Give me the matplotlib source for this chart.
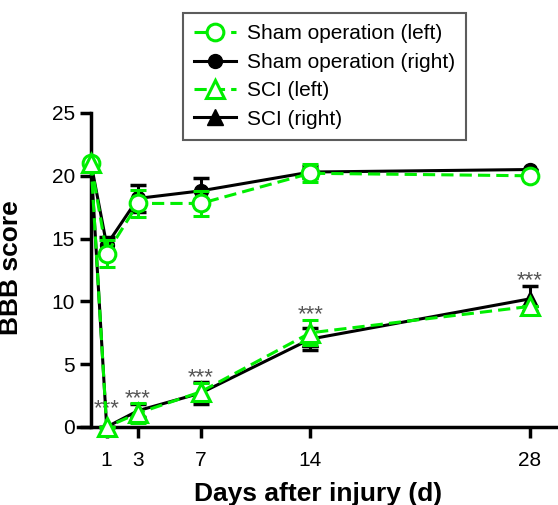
import numpy as np
import matplotlib
matplotlib.use('Agg')
import matplotlib.pyplot as plt
from matplotlib.lines import Line2D

plt.rcParams['font.family'] = ['Liberation Sans', 'DejaVu Sans']

days = [0, 1, 3, 7, 14, 28]

sham_left = [21.0, 13.8, 17.8, 17.8, 20.2, 20.0]
sham_left_err = [0.0, 1.1, 1.1, 1.0, 0.7, 0.0]
sham_right = [21.0, 14.5, 18.2, 18.8, 20.3, 20.5]
sham_right_err = [0.0, 0.6, 1.1, 1.0, 0.5, 0.0]
sci_left = [21.0, 0.0, 1.1, 2.8, 7.5, 9.6]
sci_left_err = [0.0, 0.0, 0.8, 0.7, 1.0, 0.0]
sci_right = [21.0, 0.0, 1.3, 2.7, 7.0, 10.2]
sci_right_err = [0.0, 0.0, 0.5, 0.9, 0.9, 1.0]

star_days = [1, 3, 7, 14, 28]
star_y = [1.0, 1.8, 3.5, 8.5, 11.2]

green = '#00ee00'
dash = (0, (4, 2))

fig = plt.figure(figsize=(5.58, 5.05), dpi=100)
ax = fig.add_axes([78/558, 1-427/505, 480/558, 314/505])

ax.errorbar(days, sham_right, yerr=sham_right_err, color='black', lw=2.2,
            marker='o', ms=10, mfc='black', mec='black', capsize=6, capthick=2.5,
            elinewidth=2.2, clip_on=False, zorder=3)
ax.errorbar(days, sci_right, yerr=sci_right_err, color='black', lw=2.2,
            marker='^', ms=11, mfc='black', mec='black', capsize=6, capthick=2.5,
            elinewidth=2.2, clip_on=False, zorder=3)
ax.errorbar(days, sham_left, yerr=sham_left_err, color=green, lw=2.2, ls=dash,
            marker='o', ms=12, mfc='white', mec=green, mew=2.2, capsize=6, capthick=2.5,
            elinewidth=2.2, clip_on=False, zorder=4)
ax.errorbar(days, sci_left, yerr=sci_left_err, color=green, lw=2.2, ls=dash,
            marker='^', ms=13, mfc='white', mec=green, mew=2.2, capsize=6, capthick=2.5,
            elinewidth=2.2, clip_on=False, zorder=4)

for d, y in zip(star_days, star_y):
    ax.text(d, y, '***', ha='center', va='baseline', fontsize=16, color='#555555')

ax.set_xlim(-0.83, 29.8)
ax.set_ylim(0, 25)
ax.spines['left'].set_position(('data', 0))
ax.spines['left'].set_bounds(0, 25)
ax.spines['top'].set_visible(False)
ax.spines['right'].set_visible(False)
for s in ['left', 'bottom']:
    ax.spines[s].set_linewidth(2.5)
ax.set_xticks([1, 3, 7, 14, 28])
ax.set_yticks([0, 5, 10, 15, 20, 25])
ax.tick_params(width=2.5, length=8, labelsize=15)
ax.tick_params(axis='x', pad=9)
ax.set_xlabel('Days after injury (d)', fontsize=19, fontweight='bold', labelpad=9)
ax.set_ylabel('BBB score', fontsize=19, fontweight='bold')
ax.yaxis.set_label_coords(-0.115, 0.506)

handles = [
    Line2D([], [], color=green, lw=2.2, ls=dash, marker='o', ms=12, mfc='white', mec=green, mew=2.2),
    Line2D([], [], color='black', lw=2.2, marker='o', ms=10, mfc='black'),
    Line2D([], [], color=green, lw=2.2, ls=dash, marker='^', ms=13, mfc='white', mec=green, mew=2.2),
    Line2D([], [], color='black', lw=2.2, marker='^', ms=11, mfc='black'),
]
labels = ['Sham operation (left)', 'Sham operation (right)', 'SCI (left)', 'SCI (right)']
leg = ax.legend(handles, labels, loc='upper left',
                bbox_to_anchor=(183/558, 1-13/505), bbox_transform=fig.transFigure,
                fontsize=15, frameon=True, fancybox=False, edgecolor='#333333',
                handlelength=2.0, handletextpad=0.5, borderpad=0.55, labelspacing=0.45,
                borderaxespad=0)
leg.get_frame().set_linewidth(1.5)

plt.savefig('out.png', dpi=100)
